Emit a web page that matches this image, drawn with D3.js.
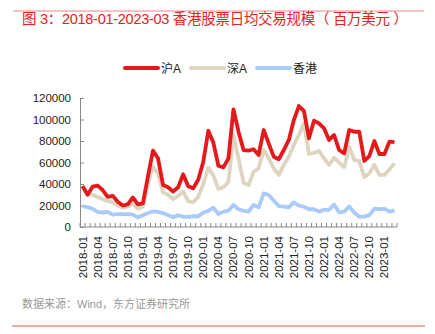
<!DOCTYPE html>
<html><head><meta charset="utf-8">
<script src="https://cdn.jsdelivr.net/npm/d3@7"></script>
<style>body{margin:0;background:#fff;}svg{display:block;font-family:"Liberation Sans","Noto Sans CJK SC",sans-serif;}</style>
</head><body>
<svg id="c" width="435" height="334"></svg>
<script>
const months = [];
for (let y = 2018; y <= 2023; y++) for (let m = 1; m <= 12; m++) {
  if (y === 2023 && m > 3) break;
  months.push(y + "-" + String(m).padStart(2, "0"));
}
const shA = [38000,30000,37500,38500,34400,28000,29000,23500,20000,21000,27500,21000,
  22000,47000,71000,64000,39000,37000,33000,37000,49000,38000,36000,44000,
  60700,89500,78500,57000,55500,63900,109500,88700,71600,71000,72300,67000,
  90200,77800,65400,63000,71600,81000,99500,112500,108000,82500,98900,96400,
  91800,81000,85600,71600,68500,90200,88600,88600,61400,66000,80000,67900,
  67900,79400,79000];
const szA = [38000,31000,30000,28000,26000,24000,23000,20000,18000,19000,22000,17000,
  19000,40000,56000,50000,32000,30000,26000,29000,33000,24000,23000,28000,
  40000,55000,48000,35500,36900,42100,85600,63900,41200,39000,51400,54600,
  71600,63900,54600,48400,57700,65400,76300,85600,96400,67900,69100,70700,
  63900,57700,64500,59800,55500,74700,62300,61400,46200,49900,57700,48400,
  48400,53600,59200];
const hk = [19500,18500,17000,14000,13500,14000,11500,12000,12000,12000,11500,9000,
  11000,13000,14500,14000,13000,11000,9000,11000,9500,9500,10000,10000,
  13500,15000,18000,12100,14300,15200,20500,16500,15000,14300,20500,18300,
  31300,29800,24500,19500,19000,18300,23000,19800,19000,16500,16500,14300,
  16000,16000,21000,13500,14300,19000,13500,9600,9600,11000,17000,16500,
  17000,14300,15500];
const yTicks = [0,20000,40000,60000,80000,100000,120000];
const seriesNames = ["沪A","深A","香港"];
const seriesColors = ["#e3191b","#ded5c0","#a9cbfa"];
const seriesData = [shA, szA, hk];

const svg = d3.select("#c");
svg.append("line").attr("x1",13).attr("x2",424).attr("y1",11).attr("y2",11).attr("stroke","#ec8a86").attr("stroke-width",1);
svg.append("line").attr("x1",12).attr("x2",425).attr("y1",326).attr("y2",326).attr("stroke","#ec8a86").attr("stroke-width",1.5);
svg.append("text").attr("x",22).attr("y",24).attr("fill","#e3221e").attr("font-size",14.5)
  .attr("textLength",386).attr("lengthAdjust","spacing")
  .text("图 3：2018-01-2023-03 香港股票日均交易规模（ 百万美元 ）");
svg.append("text").attr("x",22).attr("y",308).attr("fill","#999").attr("font-size",11)
  .text("数据来源：Wind，东方证券研究所");

const x = d3.scaleBand().domain(months).range([80, 397]);
const y = d3.scaleLinear().domain([0, 120000]).range([227, 98]);

const ya = svg.append("g").attr("transform","translate(80,0)")
  .call(d3.axisLeft(y).tickValues(yTicks).tickSize(0).tickPadding(9).tickFormat(d3.format("d")));
ya.select(".domain").attr("stroke","#888");
ya.selectAll("text").attr("font-size",11.5).attr("fill","#222").attr("font-family","Liberation Sans, sans-serif");
ya.selectAll(".tick").append("line").attr("x2",4).attr("stroke","#888");

const xa = svg.append("g").attr("transform","translate(0,227)");
xa.append("line").attr("x1",80).attr("x2",397).attr("stroke","#888");
const bounds = months.map(m => x(m)).concat([x(months[months.length-1]) + x.bandwidth()]);
xa.selectAll(".tk").data(bounds).enter().append("line")
  .attr("x1",d=>d).attr("x2",d=>d).attr("y1",0).attr("y2",-4).attr("stroke","#888");
const labelMonths = months.filter((m,i)=> i % 3 === 0);
xa.selectAll(".lb").data(labelMonths).enter().append("text")
  .attr("transform", d => `translate(${x(d)+x.bandwidth()/2+4},9) rotate(-90)`)
  .attr("text-anchor","end").attr("font-size",11.5).attr("fill","#222")
  .text(d=>d);

const line = d3.line().x((d,i)=> x(months[i]) + x.bandwidth()/2).y(d=>y(d));
[2,1,0].forEach(k=>{
  svg.append("path").datum(seriesData[k]).attr("d",line).attr("fill","none")
    .attr("stroke",seriesColors[k]).attr("stroke-width",3.8).attr("stroke-linejoin","round");
});

const lx = [125, 191, 257];
seriesNames.forEach((n,k)=>{
  svg.append("line").attr("x1",lx[k]).attr("x2",lx[k]+33).attr("y1",68).attr("y2",68)
    .attr("stroke",seriesColors[k]).attr("stroke-width",4).attr("stroke-linecap","round");
  svg.append("text").attr("x",lx[k]+36).attr("y",72.5).attr("font-size",12).attr("fill","#222").text(n);
});
</script>
</body></html>
